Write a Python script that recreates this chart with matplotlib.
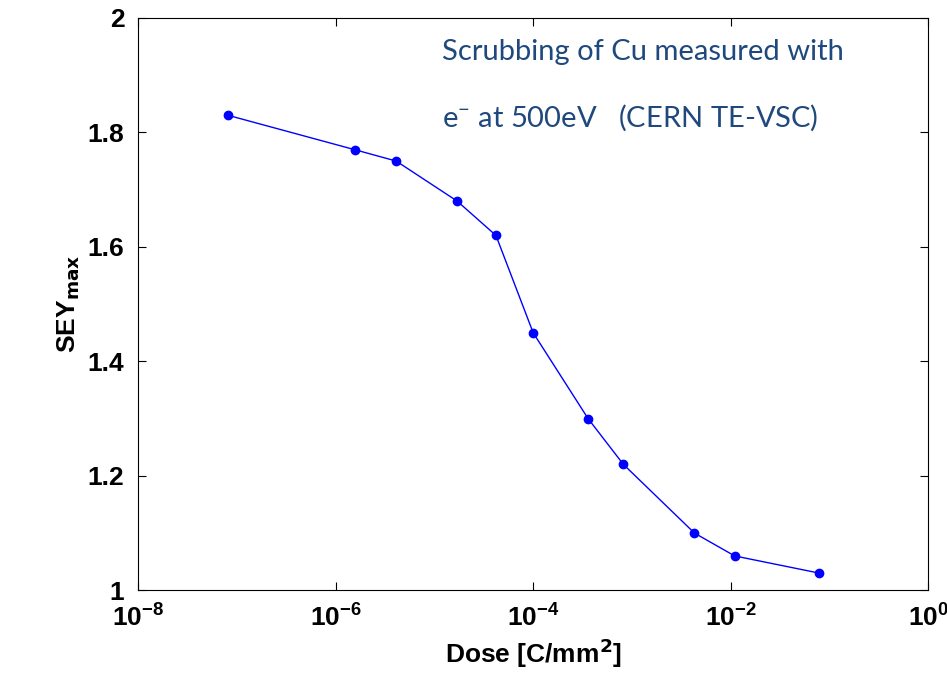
import matplotlib
matplotlib.use("Agg")
import matplotlib.pyplot as plt

dose = [8.1e-8, 1.55e-6, 4.1e-6, 1.7e-5, 4.2e-5, 1.0e-4, 3.6e-4, 8.2e-4, 4.3e-3, 1.1e-2, 7.9e-2]
sey = [1.83, 1.77, 1.75, 1.68, 1.62, 1.45, 1.30, 1.22, 1.10, 1.06, 1.03]

plt.rcParams['font.family'] = ['Liberation Sans', 'DejaVu Sans']
fig = plt.figure(figsize=(9.47, 6.92), dpi=100)
ax = fig.add_axes([0.146, 0.147, 0.834, 0.827])
ax.plot(dose, sey, '-o', color='#0000ff', lw=1, ms=6)
ax.set_xscale('log')
ax.set_xlim(1e-8, 1)
ax.set_ylim(1, 2)
ax.set_xticks([1e-8, 1e-6, 1e-4, 1e-2, 1])
ax.minorticks_off()
ax.set_yticks([1, 1.2, 1.4, 1.6, 1.8, 2])
ax.set_yticklabels(['1', '1.2', '1.4', '1.6', '1.8', '2'])
ax.tick_params(direction='in', top=True, right=True, labelsize=19, length=6, pad=10)
for l in ax.get_xticklabels() + ax.get_yticklabels():
    l.set_fontweight('bold')
ax.set_xlabel('Dose [C/mm$^\\mathbf{2}$]', fontsize=19, fontweight='bold')
ax.set_ylabel('SEY$_{\\mathbf{max}}$', fontsize=19, fontweight='bold')
ax.text(0.385, 0.94, 'Scrubbing of Cu measured with', transform=ax.transAxes,
        fontsize=21, color='#1f497d', family='Lato', va='center')
ax.text(0.385, 0.825, 'e$\\mathregular{^{-}}$ at 500eV   (CERN TE-VSC)', transform=ax.transAxes,
        fontsize=21, color='#1f497d', family='Lato', va='center')
fig.savefig('out.png', dpi=100)
